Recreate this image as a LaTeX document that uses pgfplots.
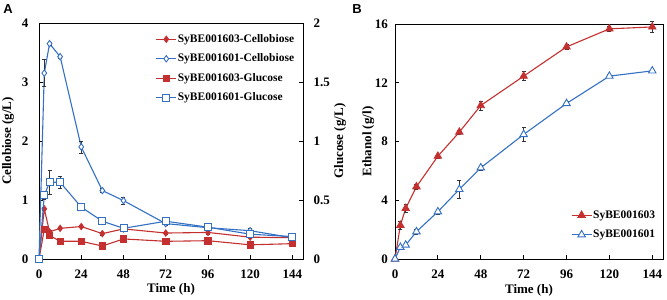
\documentclass[border=0pt]{standalone}
\usepackage{pgfplots}
\pgfplotsset{compat=1.18}
\usepackage{fontspec}
\setmainfont{Liberation Serif}
\newfontfamily\arialfont{Liberation Sans}
\definecolor{cred}{RGB}{196,48,48}
\definecolor{cblue}{RGB}{52,112,196}
\newcommand{\lblfont}{\fontsize{13}{13}\selectfont\bfseries}
\pgfplotsset{
 common/.style={
   scale only axis,
   clip=false,
   /pgf/number format/assume math mode=true,
   tick align=inside,
   major tick length=4pt,
   ticklabel style={font=\lblfont},
   xmin=0,xmax=150,
   xtick={0,24,...,144},
   xticklabel style={yshift=-7pt},
   axis line style={line width=0.8pt},
   tick style={line width=0.8pt, black},
   every axis plot/.append style={line width=1.1pt},
   legend cell align=left,
   legend image code/.code={\draw[mark repeat=2,mark phase=2,##1] plot coordinates {(0pt,0pt) (10pt,0pt) (20pt,0pt)};},
 },
 leg/.style={legend style={draw=none, fill=none, anchor=north west,
    font=\fontsize{11.5}{11.5}\selectfont\bfseries,
    nodes={inner sep=1pt, text height=9pt, text depth=3pt}, row sep=5.5pt}},
 ebar/.style={error bars/.cd, y dir=both, y explicit,
   error bar style={black!80, line width=0.6pt},
   error mark options={black!80, line width=0.6pt, mark size=2pt, rotate=90}},
 rdia/.style={color=cred, mark=diamond*, mark size=3.2pt, mark options={fill=cred, line width=0.8pt}},
 bdia/.style={color=cblue, mark=diamond*, mark size=3.2pt, mark options={fill=white, line width=0.9pt}},
 rsq/.style={color=cred, mark=square*, mark size=3.2pt, mark options={fill=cred, line width=0.8pt}},
 bsq/.style={color=cblue, mark=square*, mark size=3.5pt, mark options={fill=white, line width=0.9pt}},
 rtri/.style={color=cred, mark=triangle*, mark size=4.3pt, mark options={fill=cred, line width=0.8pt}},
 btri/.style={color=cblue, mark=triangle*, mark size=4.3pt, mark options={fill=white, line width=0.9pt}},
}
\begin{document}
\begin{tikzpicture}
\path[use as bounding box] (0pt,0pt) rectangle (667pt,300pt);
% Panel A, left axis (cellobiose)
\begin{axis}[common, at={(39pt,41pt)}, anchor=south west, width=264pt, height=236pt,
  ymin=0, ymax=4, ytick={0,1,2,3,4}, ytick pos=left, xtick pos=bottom,
  yticklabel style={xshift=-7pt},
  xlabel={Time (h)}, ylabel={Cellobiose (g/L)},
  every axis x label/.style={at={(axis description cs:0.5,-0.127)}, anchor=center, font=\lblfont},
  every axis y label/.style={at={(axis description cs:-0.117,0.5)}, rotate=90, anchor=center, font=\lblfont}]
\addplot+[rdia, ebar] table[x=t, y=v, y error=e] {
t v e
0 0 0
3 0.85 0.02
6 0.46 0.02
12 0.52 0.02
24 0.55 0.02
36 0.43 0.02
48 0.51 0.04
72 0.44 0.02
96 0.45 0.03
120 0.37 0.02
144 0.36 0.02
};
\addplot+[bdia, ebar] table[x=t, y=v, y error=e] {
t v e
0 0 0
3 3.15 0.23
6 3.65 0.03
12 3.43 0.03
24 1.90 0.10
36 1.16 0.03
48 0.99 0.06
72 0.60 0.03
96 0.53 0.04
120 0.48 0.04
144 0.36 0.06
};
\end{axis}
% Panel A, right axis (glucose)
\begin{axis}[common, leg, at={(39pt,41pt)}, anchor=south west, width=264pt, height=236pt,
  ymin=0, ymax=2, ytick={0,0.5,1,1.5,2}, axis y line*=right, axis x line=none,
  yticklabel style={xshift=7pt},
  ylabel={Glucose (g/L)},
  every axis y label/.style={at={(axis description cs:1.14,0.5)}, rotate=90, anchor=center, font=\lblfont},
  legend style={at={(axis description cs:0.43,0.97)}}]
\addlegendimage{rdia}
\addlegendentry{SyBE001603-Cellobiose}
\addlegendimage{bdia}
\addlegendentry{SyBE001601-Cellobiose}
\addplot+[rsq, ebar] table[x=t, y=v, y error=e] {
t v e
0 0 0
3 0.25 0.01
6 0.20 0.01
12 0.15 0.01
24 0.15 0.01
36 0.11 0.01
48 0.17 0.01
72 0.15 0.01
96 0.155 0.02
120 0.12 0.01
144 0.13 0.01
};
\addlegendentry{SyBE001603-Glucose}
\addplot+[bsq, ebar] table[x=t, y=v, y error=e] {
t v e
0 0 0
3 0.54 0.03
6 0.65 0.10
12 0.65 0.055
24 0.44 0.03
36 0.32 0.02
48 0.26 0.02
72 0.32 0.03
96 0.27 0.02
120 0.21 0.02
144 0.19 0.02
};
\addlegendentry{SyBE001601-Glucose}
\end{axis}
% Panel B (ethanol)
\begin{axis}[common, leg, at={(395pt,41pt)}, anchor=south west, width=268pt, height=235pt,
  ymin=0, ymax=16, ytick={0,4,8,12,16}, ytick pos=left, xtick pos=bottom,
  yticklabel style={xshift=-3.5pt},
  xlabel={Time (h)}, ylabel={Ethanol (g/l)},
  every axis x label/.style={at={(axis description cs:0.5,-0.133)}, anchor=center, font=\lblfont},
  every axis y label/.style={at={(axis description cs:-0.10,0.5)}, rotate=90, anchor=center, font=\lblfont},
  legend style={at={(axis description cs:0.645,0.2255)}}]
\addplot+[rtri, ebar] table[x=t, y=v, y error=e] {
t v e
0 0 0
3 2.30 0.30
6 3.45 0.30
12 4.92 0.15
24 7.00 0.15
36 8.64 0.15
48 10.45 0.30
72 12.45 0.30
96 14.44 0.15
120 15.67 0.20
144 15.80 0.35
};
\addlegendentry{SyBE001603}
\addplot+[btri, ebar] table[x=t, y=v, y error=e] {
t v e
0 0 0
3 0.80 0.10
6 0.95 0.10
12 1.86 0.15
24 3.22 0.15
36 4.74 0.60
48 6.21 0.15
72 8.48 0.50
96 10.59 0.15
120 12.45 0.10
144 12.81 0.10
};
\addlegendentry{SyBE001601}
\end{axis}
\node[font=\arialfont\bfseries\fontsize{13}{13}\selectfont, anchor=center] at (8pt,291pt) {A};
\node[font=\arialfont\bfseries\fontsize{13}{13}\selectfont, anchor=center] at (357pt,291pt) {B};
\end{tikzpicture}
\end{document}
